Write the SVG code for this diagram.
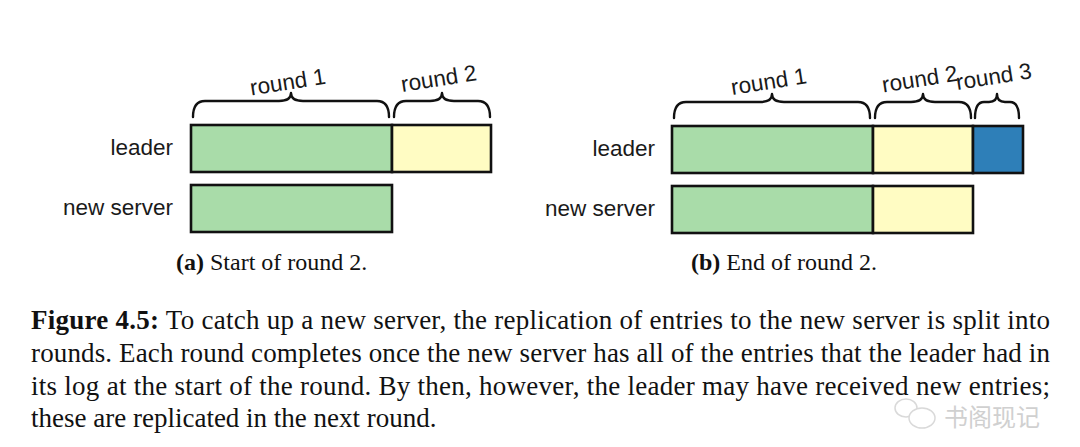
<svg xmlns="http://www.w3.org/2000/svg" width="1080" height="447" viewBox="0 0 1080 447">
<style>
.lbl{font-family:"Liberation Sans",Arial,sans-serif;font-size:22.5px;fill:#1a1a1a;text-anchor:end}
.rnd{font-family:"Liberation Sans",Arial,sans-serif;font-size:22.5px;fill:#1a1a1a;text-anchor:middle}
.cap{font-family:"Liberation Serif","Times New Roman",serif;font-size:24px;fill:#111}
.body{font-family:"Liberation Serif","Times New Roman",serif;font-size:27px;fill:#111}
.b{font-weight:bold}
.brace{fill:none;stroke:#111;stroke-width:2.4;stroke-linecap:round;stroke-linejoin:round}
.bar{stroke:#111;stroke-width:2.6}
.g{fill:#a9dca9}.y{fill:#fffcc3}.bl{fill:#2e7fb8}
</style>
<rect width="1080" height="447" fill="#fff"/>
<g id="panel-a">
  <g id="a-leader">
    <text class="lbl" x="173" y="155">leader</text>
    <rect class="bar g" x="191" y="125" width="201" height="47"/>
    <rect class="bar y" x="392" y="125" width="99" height="47"/>
  </g>
  <g id="a-newserver">
    <text class="lbl" x="173" y="215">new server</text>
    <rect class="bar g" x="191" y="185" width="201" height="47"/>
  </g>
  <g id="a-round1">
    <path class="brace" d="M193,117 Q193,101 205,101 L279,101 Q291,101 291,93 Q291,101 303,101 L377,101 Q389,101 389,117"/>
    <text class="rnd" transform="translate(289,89.5) rotate(-9)">round 1</text>
  </g>
  <g id="a-round2">
    <path class="brace" d="M394,117 Q394,101 406,101 L430,101 Q442,101 442,93 Q442,101 454,101 L478,101 Q490,101 490,117"/>
    <text class="rnd" transform="translate(440,86) rotate(-9)">round 2</text>
  </g>
  <text class="cap" x="176" y="270"><tspan class="b">(a)</tspan> Start of round 2.</text>
</g>
<g id="panel-b">
  <g id="b-leader">
    <text class="lbl" x="655" y="155.5">leader</text>
    <rect class="bar g" x="672" y="126" width="201" height="47"/>
    <rect class="bar y" x="873" y="126" width="100" height="47"/>
    <rect class="bar bl" x="973" y="126" width="50" height="47"/>
  </g>
  <g id="b-newserver">
    <text class="lbl" x="655" y="215.5">new server</text>
    <rect class="bar g" x="672" y="186" width="201" height="47"/>
    <rect class="bar y" x="873" y="186" width="100" height="47"/>
  </g>
  <g id="b-round1">
    <path class="brace" d="M674,118 Q674,102 686,102 L760,102 Q772,102 772,94 Q772,102 784,102 L858,102 Q870,102 870,118"/>
    <text class="rnd" transform="translate(770,89) rotate(-9)">round 1</text>
  </g>
  <g id="b-round2">
    <path class="brace" d="M875,118 Q875,102 887,102 L911,102 Q923,102 923,94 Q923,102 935,102 L959,102 Q971,102 971,118"/>
    <text class="rnd" transform="translate(921,86.5) rotate(-9)">round 2</text>
  </g>
  <g id="b-round3">
    <path class="brace" d="M975,118 Q975,102 984,102 L989,102 Q997,102 997,94 Q997,102 1005,102 L1010,102 Q1019,102 1019,118"/>
    <text class="rnd" transform="translate(995,84) rotate(-9)">round 3</text>
  </g>
  <text class="cap" x="691" y="270"><tspan class="b">(b)</tspan> End of round 2.</text>
</g>
<g id="caption">
  <text class="body" x="31" y="329" textLength="1019" lengthAdjust="spacing"><tspan class="b">Figure 4.5:</tspan> To catch up a new server, the replication of entries to the new server is split into</text>
  <text class="body" x="31" y="362" textLength="1019" lengthAdjust="spacing">rounds. Each round completes once the new server has all of the entries that the leader had in</text>
  <text class="body" x="31" y="394.5" textLength="1019" lengthAdjust="spacing">its log at the start of the round. By then, however, the leader may have received new entries;</text>
  <text class="body" x="31" y="427">these are replicated in the next round.</text>
</g>
<g id="watermark" opacity="0.55">
  <ellipse cx="906" cy="408" rx="11" ry="9" fill="none" stroke="#bbb" stroke-width="1.5"/>
  <ellipse cx="922" cy="418" rx="13" ry="10" fill="#fff" stroke="#bbb" stroke-width="1.5"/>
  <text x="944" y="426" style="font-family:'Noto Sans CJK SC',sans-serif;font-size:24px;fill:#aaa">书阁现记</text>
</g>
</svg>
